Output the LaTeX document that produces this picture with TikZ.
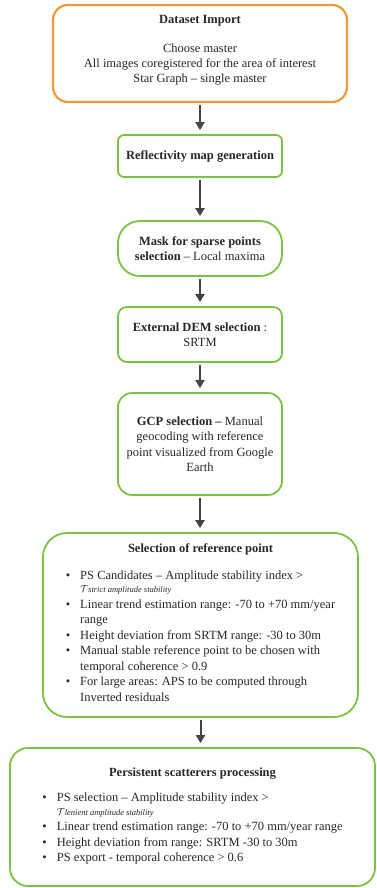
\documentclass[tikz,border=0pt]{standalone}
\usepackage{fontspec}
\setmainfont{Liberation Serif}
\usetikzlibrary{arrows.meta,positioning}
\definecolor{boxgreen}{RGB}{124,194,66}
\definecolor{boxorange}{RGB}{242,152,58}
\definecolor{arrgray}{RGB}{68,68,68}
\newcommand{\tauline}[1]{{\fontsize{10}{9}\selectfont$\mathcal{T}$\fontsize{8.5}{9}\selectfont\itshape #1}}

\begin{document}
\begin{tikzpicture}[x=1pt, y=1pt,
  stg/.style={draw=boxgreen, line width=1.8pt, minimum width=164pt, align=center, text=black!85, inner sep=2pt, font=\fontsize{12.5}{15.5}\selectfont},
  big/.style={draw=boxgreen, line width=1.8pt, align=center, text=black!85, inner sep=2pt, font=\fontsize{12.5}{15.5}\selectfont},
  arr/.style={-{Triangle[length=8pt, width=9pt]}, line width=2pt, arrgray, shorten <=2pt, shorten >=4pt}]
\useasboundingbox (0,0) rectangle (376,-888);

%% -- import --------------------------------------------
\node[draw=boxorange, line width=2.2pt, rounded corners=15pt, minimum width=294pt, minimum height=97pt] (imp) at (200,-53.5) {};
\node[anchor=north, align=center, text=black!85, font=\fontsize{12.5}{15}\selectfont] (impt) at ([yshift=-8pt]imp.north)
  {\textbf{Dataset Import}\\[14pt]
   Choose master\\
   All images coregistered for the area of interest\\
   Star Graph -- single master};

%% -- small steps -----------------------------------------
\node[stg, rounded corners=6pt, minimum height=42pt] (refl) at (200,-156) {\textbf{Reflectivity map generation}};
\node[stg, rounded corners=22pt, minimum height=55pt] (mask) at (200,-248.5)
  {\textbf{Mask for sparse points}\\\textbf{selection} -- Local maxima};
\node[stg, rounded corners=9pt, minimum height=55pt] (dem) at (200,-334.5)
  {\textbf{External DEM selection} :\\SRTM};
\node[stg, rounded corners=14pt, minimum height=102pt] (gcp) at (200,-444)
  {\textbf{GCP selection --} Manual\\geocoding with reference\\point visualized from Google\\Earth};

%% -- reference point -------------------------------------
\node[big, rounded corners=24pt, minimum width=315pt, minimum height=184pt] (refpt) at (200.5,-625)
  {\textbf{Selection of reference point}\\[12pt]
   \begin{tabular}{@{}c@{\hspace{10pt}}l@{}}
   \textbullet & PS Candidates -- Amplitude stability index >\\[-2pt]
    & \tauline{strict amplitude stability}\\
   \textbullet & Linear trend estimation range: -70 to +70 mm/year\\
    & range\\
   \textbullet & Height deviation from SRTM range: -30 to 30m\\
   \textbullet & Manual stable reference point to be chosen with\\
    & temporal coherence > 0.9\\
   \textbullet & For large areas: APS to be computed through\\
    & Inverted residuals
   \end{tabular}};

%% -- PS processing ---------------------------------------
\node[big, rounded corners=18pt, minimum width=365pt, minimum height=138pt] (psp) at (192.5,-817)
  {\textbf{Persistent scatterers processing}\\[11pt]
   \begin{tabular}{@{}c@{\hspace{10pt}}l@{}}
   \textbullet & PS selection -- Amplitude stability index >\\[-2pt]
    & \tauline{lenient amplitude stability}\\
   \textbullet & Linear trend estimation range: -70 to +70 mm/year range\\
   \textbullet & Height deviation from range: SRTM -30 to 30m\\
   \textbullet & PS export - temporal coherence > 0.6
   \end{tabular}};

\foreach \a/\b in {imp/refl,refl/mask,mask/dem,dem/gcp,gcp/refpt,refpt/psp}
  {\draw[arr] (\a.south) -- (\a.south |- \b.north);}
\end{tikzpicture}
\end{document}
